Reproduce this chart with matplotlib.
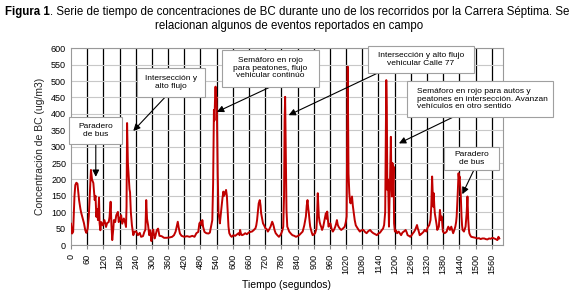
import matplotlib.pyplot as plt
from matplotlib.patches import Rectangle
import numpy as np

plt.rcParams['font.family'] = ['Liberation Sans', 'DejaVu Sans']

# valores (segundos, ug/m3)
tiempo = [0, 4, 8, 13, 16, 20, 24, 30, 35, 38, 44, 48, 53, 57, 62, 66, 70, 74, 78, 83,
          88, 91, 94, 97, 100, 104, 106, 109, 112, 118, 124, 130, 134, 140, 143, 147, 150, 153, 157, 159,
          164, 168, 174, 177, 180, 186, 190, 196, 201, 204, 206, 208, 211, 214, 217, 219, 222, 226, 231, 236,
          242, 248, 255, 260, 267, 272, 276, 279, 282, 286, 290, 294, 298, 302, 305, 310, 313, 318, 323, 328,
          336, 345, 354, 365, 375, 382, 388, 393, 396, 399, 404, 410, 420, 430, 440, 450, 458, 465, 472, 476,
          481, 485, 487, 490, 495, 502, 510, 515, 520, 524, 527, 530, 532, 534, 536, 538, 539, 541, 544, 547,
          550, 552, 556, 559, 562, 565, 568, 571, 575, 578, 580, 584, 587, 592, 596, 602, 609, 615, 621, 625,
          627, 630, 634, 640, 646, 652, 659, 665, 671, 677, 684, 687, 690, 693, 696, 700, 703, 705, 709, 712,
          716, 721, 726, 730, 735, 740, 746, 749, 752, 755, 759, 765, 771, 776, 780, 784, 787, 790, 792, 794,
          796, 799, 802, 805, 809, 815, 821, 828, 834, 840, 846, 852, 859, 865, 871, 874, 877, 880, 882, 885,
          887, 892, 896, 900, 905, 910, 912, 915, 917, 919, 922, 925, 928, 931, 935, 940, 943, 945, 948, 950,
          953, 955, 958, 962, 966, 971, 976, 980, 983, 986, 989, 992, 997, 1002, 1008, 1015, 1019, 1022, 1024, 1026,
          1028, 1029, 1031, 1032, 1035, 1037, 1040, 1042, 1045, 1047, 1050, 1052, 1056, 1059, 1065, 1071, 1077, 1084, 1090, 1096,
          1102, 1109, 1115, 1121, 1128, 1134, 1140, 1146, 1152, 1157, 1161, 1165, 1167, 1169, 1171, 1173, 1175, 1177, 1179, 1181,
          1183, 1186, 1188, 1190, 1192, 1194, 1196, 1198, 1201, 1205, 1209, 1215, 1220, 1224, 1229, 1234, 1241, 1245, 1248, 1253,
          1258, 1263, 1268, 1272, 1276, 1280, 1283, 1286, 1288, 1293, 1298, 1302, 1307, 1311, 1315, 1318, 1321, 1324, 1328, 1333,
          1336, 1339, 1341, 1343, 1345, 1347, 1349, 1353, 1356, 1358, 1361, 1364, 1366, 1368, 1370, 1371, 1373, 1375, 1377, 1379,
          1385, 1389, 1393, 1396, 1399, 1402, 1405, 1408, 1410, 1414, 1417, 1421, 1425, 1428, 1430, 1432, 1434, 1437, 1439, 1441,
          1443, 1445, 1448, 1450, 1452, 1457, 1460, 1463, 1465, 1467, 1470, 1473, 1475, 1477, 1480, 1484, 1490, 1494, 1500, 1507,
          1513, 1519, 1525, 1532, 1538, 1544, 1550, 1556, 1563, 1569, 1575, 1581, 1585, 1588]
bc = [65, 35, 40, 150, 183, 190, 187, 137, 110, 98, 80, 67, 45, 37, 50, 86, 160, 229, 200, 189,
      137, 150, 86, 110, 76, 145, 67, 45, 70, 60, 76, 55, 67, 70, 86, 132, 60, 15, 50, 76,
      70, 91, 101, 70, 76, 91, 65, 81, 67, 55, 117, 372, 250, 208, 170, 161, 100, 60, 30, 41,
      41, 30, 37, 25, 27, 40, 47, 137, 80, 60, 30, 45, 12, 35, 47, 20, 27, 45, 50, 28,
      27, 22, 22, 23, 25, 30, 41, 60, 71, 55, 35, 28, 25, 27, 25, 28, 25, 36, 40, 66,
      71, 60, 76, 55, 40, 36, 35, 38, 60, 76, 188, 412, 380, 442, 483, 440, 452, 412, 218, 97,
      80, 66, 100, 122, 145, 163, 150, 158, 168, 150, 117, 56, 36, 28, 25, 30, 28, 32, 36, 30,
      46, 35, 30, 32, 36, 33, 38, 40, 41, 45, 51, 60, 76, 100, 127, 137, 120, 97, 80, 66,
      60, 51, 48, 41, 48, 56, 71, 65, 56, 45, 36, 30, 25, 30, 36, 45, 56, 150, 380, 452,
      320, 107, 56, 50, 41, 35, 30, 28, 25, 27, 30, 35, 41, 60, 87, 120, 137, 110, 97, 70,
      56, 40, 30, 32, 36, 50, 76, 158, 120, 87, 70, 61, 55, 46, 55, 76, 90, 97, 80, 102,
      75, 56, 62, 66, 50, 41, 48, 56, 65, 76, 62, 56, 50, 46, 50, 56, 70, 87, 300, 544,
      350, 218, 180, 158, 130, 127, 140, 148, 120, 107, 85, 76, 60, 56, 48, 41, 45, 46, 40, 36,
      42, 46, 40, 36, 33, 30, 35, 38, 45, 50, 61, 100, 300, 503, 420, 168, 200, 148, 56, 137,
      200, 330, 198, 148, 250, 180, 239, 66, 41, 45, 36, 41, 35, 30, 38, 41, 46, 38, 30, 28,
      25, 30, 36, 40, 46, 55, 61, 50, 46, 30, 33, 36, 40, 46, 44, 41, 50, 56, 60, 76,
      120, 209, 160, 117, 158, 120, 97, 76, 60, 46, 50, 56, 80, 107, 90, 76, 85, 87, 60, 41,
      36, 38, 41, 50, 56, 50, 46, 52, 56, 45, 36, 45, 56, 70, 87, 120, 158, 219, 200, 209,
      180, 158, 87, 60, 46, 41, 48, 56, 75, 97, 148, 76, 50, 36, 30, 25, 24, 23, 22, 20,
      21, 18, 20, 20, 18, 17, 20, 19, 22, 20, 18, 15, 25, 20]

eventos = [
    'Paradero\nde bus',
    'Intersección y\nalto flujo',
    'Semáforo en rojo\npara peatones, flujo\nvehicular continúo',
    'Intersección y alto flujo\nvehicular Calle 77',
    'Semáforo en rojo para autos y\npeatones en intersección. Avanzan\nvehículos en otro sentido',
    'Paradero\nde bus',
]
# caja (x0, x1, y0, y1), punta y origen de flecha, en unidades de datos
cajas = [(-7, 190, 308, 390), (244, 498, 451, 540), (561, 918, 482, 595),
         (1103, 1493, 524, 607), (1247, 1788, 389, 501), (1383, 1587, 229, 300)]
puntas = [(92, 208), (231, 348), (541, 406), (807, 396), (1216, 310), (1451, 155)]
origenes = [(92, 308), (349, 451), (739, 482), (1136, 524), (1414, 389), (1494, 229)]

fig = plt.figure(figsize=(5.78, 3.08), dpi=100)
ax = fig.add_axes([0.1228, 0.2045, 0.7466, 0.6387])

ax.plot(tiempo, bc, color='#C00000', lw=1.4, zorder=3)

ax.set_xlim(0, 1600)
ax.set_ylim(0, 600)
ax.set_xticks(np.arange(0, 1561, 60))
ax.set_yticks(np.arange(0, 601, 50))
ax.tick_params(axis='x', labelrotation=90, labelsize=6.5, length=3, color='#888888')
ax.tick_params(axis='y', labelsize=6.5, length=0)
ax.yaxis.grid(True, color='#c8c8c8', lw=0.8)
for t in np.arange(60, 1561, 60):
    ax.axvline(t, color='black', lw=0.9, zorder=1)
for s in ax.spines.values():
    s.set_color('#999999')
    s.set_linewidth(0.8)

ax.set_ylabel('Concentración de BC (ug/m3)', fontsize=7.5, color='#222222')
ax.set_xlabel('Tiempo (segundos)', fontsize=7.5, labelpad=4)

for i, texto in enumerate(eventos):
    x0, x1, y0, y1 = cajas[i]
    ax.add_patch(Rectangle((x0, y0), x1 - x0, y1 - y0, fc='white', ec='#a0a0a0',
                           lw=0.8, clip_on=False, zorder=5))
    if i == 4:
        ax.text(x0 + 37, (y0 + y1) / 2, texto, fontsize=6, ha='left', va='center',
                linespacing=1.1, clip_on=False, zorder=6)
    else:
        ax.text((x0 + x1) / 2, (y0 + y1) / 2, texto, fontsize=6, ha='center', va='center',
                linespacing=1.1, clip_on=False, zorder=6)
    ax.annotate('', xy=puntas[i], xytext=origenes[i], annotation_clip=False, zorder=4,
                arrowprops=dict(arrowstyle='-|>', color='black', lw=0.8,
                                mutation_scale=10, shrinkA=0, shrinkB=0))

t1 = fig.text(0.009, 0.962, 'Figura 1', fontweight='bold', ha='left', va='center', fontsize=8.3)
fig.canvas.draw()
bb = t1.get_window_extent().transformed(fig.transFigure.inverted())
fig.text(bb.x1, 0.962, '. Serie de tiempo de concentraciones de BC durante uno de los recorridos por la Carrera Séptima. Se',
         ha='left', va='center', fontsize=8.3)
fig.text(0.5, 0.915, 'relacionan algunos de eventos reportados en campo',
         ha='center', va='center', fontsize=8.3)

fig.savefig('out.png', dpi=100)
